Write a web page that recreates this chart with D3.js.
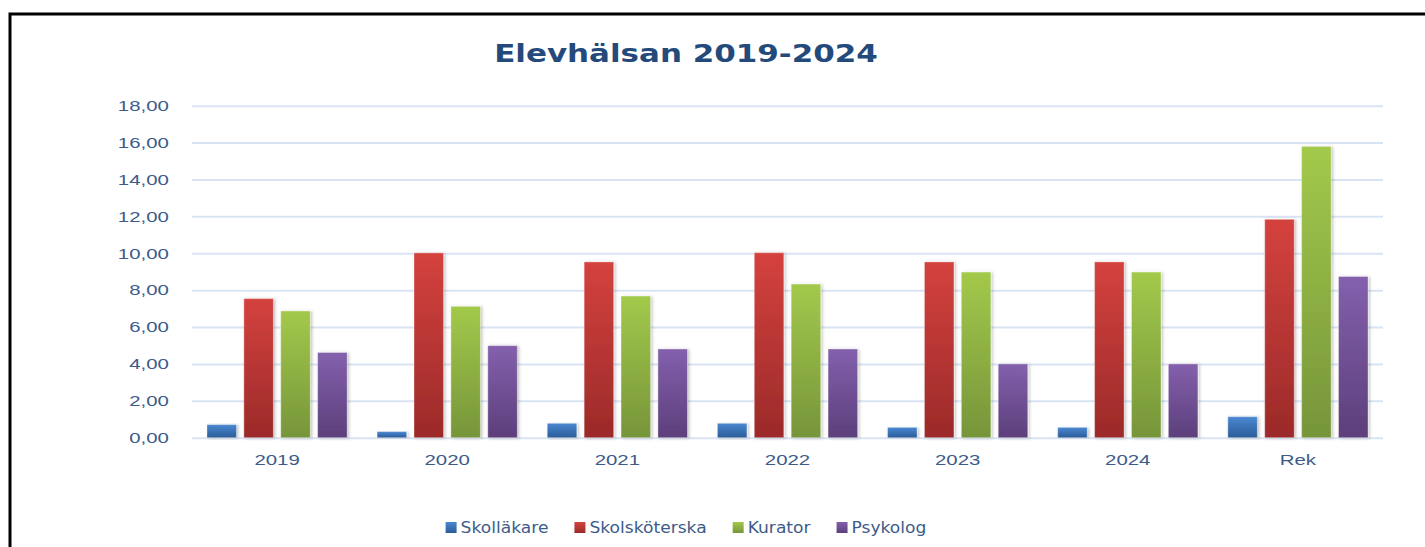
<!DOCTYPE html>
<html>
<head>
<meta charset="utf-8">
<script src="https://cdn.jsdelivr.net/npm/d3@7"></script>
<style>
  body { margin: 0; background: #fff; }
  svg { display: block; font-family: "DejaVu Sans", sans-serif; }
</style>
</head>
<body>
<div id="chart"></div>
<script>
// data
const categories = ["2019", "2020", "2021", "2022", "2023", "2024", "Rek"]
const series = ["Skolläkare", "Skolsköterska", "Kurator", "Psykolog"]
const skollakare = [0.71, 0.33, 0.78, 0.78, 0.56, 0.56, 1.14]
const skolskoterska = [7.54, 10.02, 9.53, 10.03, 9.53, 9.53, 11.84]
const kurator = [6.87, 7.12, 7.68, 8.33, 8.98, 8.98, 15.79]
const psykolog = [4.62, 4.99, 4.81, 4.81, 4.0, 4.0, 8.74]
const yTicks = [0, 2, 4, 6, 8, 10, 12, 14, 16, 18]
const title = "Elevhälsan 2019-2024"

const values = [skollakare, skolskoterska, kurator, psykolog]
const colors = [
    ["#4b88d2", "#2b5c98"],
    ["#d4423e", "#9b2a29"],
    ["#a3c94b", "#76953a"],
    ["#8460ad", "#5c3f7b"]
]

const width = 1425, height = 547
const marginLeft = 192, marginRight = 42, marginTop = 105.7, marginBottom = 109.3
// text in the original is drawn wide, stretch it horizontally
const tickStretch = 1.36
const legendStretch = 1.14
const titleStretch = 1.29
const textColor = "#3d5b8a"
const gridColor = "#d8e4f3"

const table = categories.map((c, i) => ({cat: c, vals: series.map((s, j) => ({s, j, v: values[j][i]}))}))

const svg = d3.select("#chart").append("svg")
    .attr("width", width)
    .attr("height", height)
    .attr("viewBox", [0, 0, width, height])

const defs = svg.append("defs")
colors.forEach((c, j) => {
    const g = defs.append("linearGradient")
        .attr("id", "grad" + j)
        .attr("x1", 0).attr("y1", 0).attr("x2", 0).attr("y2", 1)
    g.append("stop").attr("offset", "0%").attr("stop-color", c[0])
    g.append("stop").attr("offset", "100%").attr("stop-color", c[1])
})
const shadow = defs.append("filter").attr("id", "shadow")
    .attr("x", "-20%").attr("y", "-5%").attr("width", "150%").attr("height", "115%")
shadow.append("feDropShadow")
    .attr("dx", 1.5).attr("dy", 0.5).attr("stdDeviation", 1.5)
    .attr("flood-color", "#000").attr("flood-opacity", 0.25)

// scales
const x0 = d3.scaleBand().domain(categories).range([marginLeft, width - marginRight])
const x1 = d3.scaleBand().domain(series)
    .range([x0.bandwidth() * 0.088, x0.bandwidth() * 0.912])
    .paddingInner(0.2)
const y = d3.scaleLinear().domain([0, 18]).range([height - marginBottom, marginTop])

// gridlines + y axis
svg.append("g")
    .attr("transform", `translate(${marginLeft},0)`)
    .call(d3.axisLeft(y).tickValues(yTicks).tickFormat(d => d3.format(".2f")(d).replace(".", ",")).tickSize(0).tickPadding(17))
    .call(g => g.select(".domain").remove())
    .call(g => g.selectAll(".tick line").clone()
        .attr("x2", width - marginLeft - marginRight)
        .attr("stroke", gridColor)
        .attr("stroke-width", 2))
    .call(g => g.selectAll(".tick text")
        .attr("fill", textColor)
        .attr("font-size", 15)
        .attr("transform", `scale(${tickStretch},1)`))

// bars
svg.append("g")
    .selectAll("g")
    .data(table)
    .join("g")
    .attr("transform", d => `translate(${x0(d.cat)},0)`)
    .selectAll("rect")
    .data(d => d.vals)
    .join("rect")
    .attr("x", d => x1(d.s))
    .attr("y", d => y(d.v))
    .attr("width", x1.bandwidth())
    .attr("height", d => y(0) - y(d.v))
    .attr("fill", d => `url(#grad${d.j})`)
    .attr("stroke", "rgba(255,255,255,0.35)")
    .attr("stroke-width", 1)
    .attr("filter", "url(#shadow)")

// x axis
svg.append("g")
    .attr("transform", `translate(0,${y(0)})`)
    .call(d3.axisBottom(x0).tickSize(0).tickPadding(17))
    .call(g => g.select(".domain").remove())
    .call(g => g.selectAll(".tick text")
        .attr("fill", textColor)
        .attr("font-size", 15)
        .attr("transform", `scale(${tickStretch},1)`))

// title
const centerX = 686
svg.append("text")
    .attr("transform", `translate(${centerX},62) scale(${titleStretch},1)`)
    .attr("text-anchor", "middle")
    .attr("font-size", 24)
    .attr("font-weight", "bold")
    .attr("fill", "#234a7b")
    .text(title)

// legend
const legend = svg.append("g")
const items = legend.selectAll("g")
    .data(series)
    .join("g")
items.append("rect")
    .attr("width", 11).attr("height", 11)
    .attr("y", -11)
    .attr("fill", (d, j) => `url(#grad${j})`)
items.append("text")
    .attr("transform", `translate(15,0) scale(${legendStretch},1)`)
    .attr("font-size", 15)
    .attr("fill", textColor)
    .text(d => d)
let xpos = 0
items.each(function () {
    const w = 15 + d3.select(this).select("text").node().getComputedTextLength() * legendStretch
    d3.select(this).attr("transform", `translate(${xpos},0)`)
    xpos += w + 26
})
const legendWidth = xpos - 26
legend.attr("transform", `translate(${centerX - legendWidth / 2},533)`)

// frame
svg.append("path")
    .attr("d", `M10,${height} V14 H${width}`)
    .attr("fill", "none")
    .attr("stroke", "#000")
    .attr("stroke-width", 3)
</script>
</body>
</html>
